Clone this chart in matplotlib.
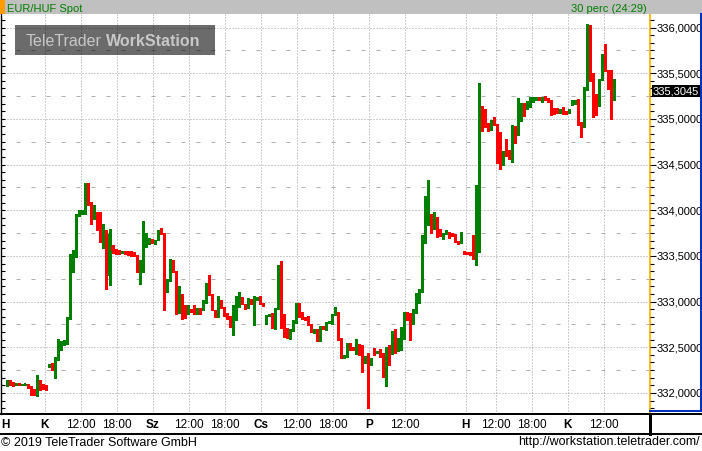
import matplotlib
matplotlib.use("Agg")
import matplotlib.pyplot as plt
import matplotlib.transforms as mtransforms
from matplotlib.lines import Line2D
from matplotlib.patches import Rectangle
from matplotlib.ticker import MultipleLocator, FixedLocator, FuncFormatter
import numpy as np

plt.rcParams['font.family'] = ['Liberation Sans', 'DejaVu Sans']

# EUR/HUF 30-minute candles (open, high, low, close)
opens = [
    332.095, 332.121, 332.110, 332.095, 332.102, 332.091, 332.095, 332.099, 332.073, 332.037,
    331.993, 332.084, 332.073, 332.066, 332.292, 332.321, 332.248, 332.394, 332.515, 332.547,
    332.569, 332.821, 333.427, 333.503, 333.945, 333.970, 333.970, 334.229, 334.061, 333.952,
    333.981, 333.842, 333.671, 333.744, 333.284, 333.605, 333.562, 333.551, 333.536, 333.540,
    333.532, 333.532, 333.525, 333.507, 333.405, 333.416, 333.613, 333.642, 333.671, 333.660,
    333.682, 333.769, 333.744, 333.124, 333.241, 333.452, 333.325, 332.985, 333.069, 332.931,
    332.905, 332.912, 332.905, 332.887, 332.923, 332.912, 332.996, 333.190, 333.080, 332.905,
    332.839, 332.978, 332.934, 332.869, 332.832, 332.748, 332.934, 332.949, 333.033, 332.960,
    332.934, 333.022, 332.752, 333.022, 333.033, 332.975, 332.759, 332.850, 332.869, 332.723,
    332.923, 333.379, 332.723, 332.704, 332.606, 332.686, 332.777, 332.978, 332.876, 332.825,
    332.832, 332.752, 332.668, 332.686, 332.613, 332.730, 332.704, 332.774, 332.777, 332.864,
    332.878, 332.590, 332.390, 332.397, 332.535, 332.499, 332.470, 332.525, 332.525, 332.342,
    332.433, 332.360, 332.477, 332.448, 332.441, 332.433, 332.178, 332.470, 332.441, 332.670,
    332.535, 332.579, 332.597, 332.871, 332.864, 332.769, 332.908, 332.988, 333.116, 333.674,
    333.867, 333.911, 333.838, 333.904, 333.754, 333.740, 333.747, 333.754, 333.747, 333.729,
    333.656, 333.645, 333.546, 333.535, 333.535, 333.521, 333.484, 333.565, 335.097, 335.097,
    334.933, 334.886, 334.958, 334.933, 334.550, 334.506, 334.623, 334.615, 334.579, 334.886,
    334.831, 335.104, 335.141, 335.126, 335.170, 335.221, 335.228, 335.228, 335.221, 335.228,
    335.221, 335.196, 335.102, 335.102, 335.087, 335.076, 335.072, 335.072, 335.149, 335.175,
    335.204, 334.941, 334.923, 335.332, 335.989, 335.496, 335.259, 335.149, 335.434, 335.678,
    335.532, 335.489, 335.211,
]
highs = [
    332.146, 332.139, 332.124, 332.106, 332.110, 332.102, 332.102, 332.102, 332.080, 332.048,
    332.193, 332.139, 332.102, 332.084, 332.318, 332.332, 332.394, 332.587, 332.569, 332.577,
    332.832, 333.518, 333.569, 333.963, 334.000, 334.000, 334.302, 334.302, 334.091, 334.054,
    333.981, 333.981, 333.846, 333.780, 333.799, 333.616, 333.577, 333.560, 333.550, 333.554,
    333.551, 333.551, 333.543, 333.507, 333.452, 333.879, 333.751, 333.700, 333.689, 333.675,
    333.780, 333.810, 333.751, 333.248, 333.470, 333.460, 333.335, 333.168, 333.080, 332.960,
    332.960, 332.923, 332.960, 332.934, 332.934, 333.014, 333.204, 333.288, 333.085, 332.912,
    333.058, 333.014, 332.942, 332.876, 332.840, 332.960, 333.058, 333.106, 333.051, 332.978,
    333.044, 333.030, 333.060, 333.051, 333.058, 332.985, 332.850, 332.869, 332.875, 332.934,
    333.398, 333.445, 332.869, 332.715, 332.700, 332.796, 332.985, 332.985, 332.887, 332.832,
    332.843, 332.759, 332.704, 332.704, 332.730, 332.735, 332.780, 332.785, 332.861, 332.944,
    332.885, 332.597, 332.415, 332.543, 332.543, 332.505, 332.590, 332.535, 332.530, 332.404,
    332.440, 332.380, 332.488, 332.460, 332.477, 332.440, 332.499, 332.525, 332.680, 332.700,
    332.597, 332.725, 332.889, 332.889, 332.870, 332.915, 333.097, 333.134, 333.729, 334.156,
    334.331, 333.959, 333.977, 333.929, 333.791, 333.754, 333.783, 333.765, 333.754, 333.736,
    333.660, 333.765, 333.550, 333.546, 333.546, 333.729, 334.276, 335.396, 335.141, 335.108,
    334.951, 334.988, 335.017, 334.940, 334.860, 334.648, 334.780, 334.659, 334.933, 334.922,
    335.225, 335.170, 335.170, 335.196, 335.243, 335.243, 335.243, 335.235, 335.243, 335.250,
    335.225, 335.211, 335.123, 335.123, 335.112, 335.131, 335.087, 335.112, 335.211, 335.211,
    335.222, 334.966, 335.350, 336.036, 336.025, 335.507, 335.269, 335.441, 335.715, 335.817,
    335.532, 335.532, 335.441,
]
lows = [
    332.073, 332.091, 332.080, 332.088, 332.084, 332.088, 332.091, 332.059, 331.982, 331.982,
    331.967, 332.029, 332.048, 332.029, 332.288, 332.248, 332.168, 332.358, 332.474, 332.525,
    332.540, 332.814, 333.324, 333.489, 333.940, 333.963, 333.963, 334.054, 333.853, 333.908,
    333.788, 333.653, 333.591, 333.142, 333.186, 333.532, 333.525, 333.520, 333.530, 333.518,
    333.507, 333.503, 333.496, 333.324, 333.197, 333.324, 333.600, 333.635, 333.642, 333.627,
    333.671, 333.740, 332.905, 333.110, 333.230, 333.320, 332.869, 332.880, 332.814, 332.821,
    332.869, 332.887, 332.869, 332.869, 332.869, 332.905, 332.990, 333.069, 332.905, 332.832,
    332.832, 332.934, 332.843, 332.814, 332.723, 332.631, 332.796, 332.940, 332.971, 332.923,
    332.930, 332.975, 332.741, 333.014, 332.978, 332.955, 332.752, 332.843, 332.715, 332.704,
    332.915, 332.715, 332.613, 332.606, 332.595, 332.679, 332.770, 332.832, 332.814, 332.796,
    332.741, 332.668, 332.657, 332.569, 332.569, 332.700, 332.693, 332.770, 332.759, 332.855,
    332.579, 332.379, 332.379, 332.390, 332.470, 332.465, 332.426, 332.415, 332.233, 332.331,
    331.831, 332.306, 332.415, 332.440, 332.397, 332.178, 332.076, 332.306, 332.422, 332.441,
    332.462, 332.470, 332.590, 332.798, 332.579, 332.754, 332.871, 332.981, 333.100, 333.638,
    333.838, 333.747, 333.790, 333.711, 333.722, 333.681, 333.736, 333.692, 333.715, 333.650,
    333.630, 333.640, 333.525, 333.521, 333.505, 333.466, 333.400, 333.540, 334.871, 334.915,
    334.867, 334.880, 334.933, 334.513, 334.451, 334.495, 334.597, 334.564, 334.528, 334.732,
    334.823, 334.980, 335.035, 335.104, 335.134, 335.188, 335.207, 335.210, 335.188, 335.207,
    335.188, 335.039, 335.058, 335.065, 335.065, 335.058, 335.058, 335.065, 335.149, 335.160,
    334.930, 334.802, 334.912, 335.313, 335.416, 335.021, 335.047, 335.138, 335.423, 335.525,
    335.332, 335.003, 335.204,
]
closes = [
    332.124, 332.110, 332.099, 332.102, 332.091, 332.099, 332.099, 332.066, 332.022, 331.993,
    332.084, 332.048, 332.059, 332.040, 332.314, 332.259, 332.387, 332.515, 332.547, 332.562,
    332.821, 333.427, 333.496, 333.945, 333.970, 333.981, 334.229, 334.061, 333.963, 333.977,
    333.842, 333.664, 333.744, 333.284, 333.744, 333.554, 333.543, 333.532, 333.543, 333.529,
    333.525, 333.518, 333.507, 333.405, 333.434, 333.591, 333.715, 333.689, 333.653, 333.671,
    333.769, 333.744, 333.131, 333.241, 333.460, 333.335, 332.985, 333.080, 332.821, 332.887,
    332.918, 332.898, 332.898, 332.923, 332.912, 332.996, 333.197, 333.080, 332.923, 332.839,
    332.978, 332.949, 332.850, 332.832, 332.748, 332.949, 332.942, 333.033, 332.985, 332.934,
    333.029, 332.985, 333.051, 333.044, 332.985, 332.968, 332.832, 332.861, 332.723, 332.923,
    333.379, 332.723, 332.704, 332.613, 332.686, 332.777, 332.978, 332.887, 332.832, 332.814,
    332.759, 332.675, 332.693, 332.620, 332.723, 332.704, 332.777, 332.779, 332.850, 332.871,
    332.590, 332.408, 332.397, 332.525, 332.499, 332.470, 332.499, 332.517, 332.342, 332.371,
    332.360, 332.375, 332.441, 332.455, 332.415, 332.185, 332.470, 332.441, 332.670, 332.525,
    332.579, 332.597, 332.871, 332.864, 332.780, 332.908, 332.988, 333.116, 333.674, 333.867,
    333.911, 333.838, 333.911, 333.754, 333.736, 333.747, 333.754, 333.740, 333.722, 333.656,
    333.638, 333.736, 333.532, 333.528, 333.510, 333.473, 333.718, 335.097, 335.090, 334.933,
    334.878, 334.969, 334.944, 334.521, 334.521, 334.623, 334.604, 334.575, 334.878, 334.823,
    335.097, 335.141, 335.126, 335.177, 335.218, 335.232, 335.232, 335.221, 335.228, 335.221,
    335.210, 335.094, 335.087, 335.091, 335.102, 335.069, 335.069, 335.094, 335.196, 335.204,
    334.941, 334.923, 335.332, 335.981, 335.503, 335.259, 335.149, 335.434, 335.686, 335.532,
    335.489, 335.211, 335.3045,
]

# time axis: candle index of each label / gridline
tick_pos = [12.4, 24.4, 36.4, 48.4, 60.4, 72.4, 84.4, 96.4, 108.4, 120.4, 132.4,
            152.6, 162.6, 174.6, 186.6, 198.6]
tick_labels = ["K", "12:00", "18:00", "Sz", "12:00", "18:00", "Cs", "12:00", "18:00",
               "P", "12:00", "H", "12:00", "18:00", "K", "12:00"]
first_label = "H"
day_names = ["H", "K", "Sz", "Cs", "P"]

last_price = 335.3045
title_left = "EUR/HUF Spot"
title_right = "30 perc (24:29)"

W, H = 702, 451
fig = plt.figure(figsize=(W / 100, H / 100), dpi=100)


def fx(x):
    return x / W


def fy(y):
    return 1 - y / H


def hline(x0, x1, y, color, lw=1.0):
    fig.add_artist(Line2D([fx(x0), fx(x1)], [fy(y), fy(y)], transform=fig.transFigure,
                          color=color, lw=lw * 0.72, antialiased=False))


def vline(x, y0, y1, color, lw=1.0):
    fig.add_artist(Line2D([fx(x), fx(x)], [fy(y0), fy(y1)], transform=fig.transFigure,
                          color=color, lw=lw * 0.72, antialiased=False))


# main price panel
ax = fig.add_axes([fx(0.5), fy(413.5), fx(650) - fx(0.5), fy(14) - fy(413.5)])
ax.set_xlim(-2.3, 214)
ax.set_ylim(331.775, 336.148)

# grid: dotted on every 0.5, short dashes on the quarters, dotted day/hour lines
for v in np.arange(332.0, 336.01, 0.5):
    ax.axhline(v, color="#a0a0a0", lw=0.72, ls=(0, (1, 2)), zorder=1)
for v in np.arange(332.25, 336.0, 0.5):
    ax.axhline(v, color="#b0b0b0", lw=0.72, ls=(0, (4, 11)), zorder=1)
for p in tick_pos:
    ax.axvline(p, color="#a0a0a0", lw=0.72, ls=(0, (1, 2)), zorder=1)

o = np.array(opens)
hi = np.array(highs)
lo = np.array(lows)
c = np.array(closes)
x = np.arange(len(o))
colors = np.where(c >= o, "#008000", "#ff0000")

ax.vlines(x, lo, hi, colors=colors, lw=0.8, zorder=3, antialiased=False)
body_bottom = np.minimum(o, c)
body_height = np.maximum(np.abs(c - o), 0.011)
ax.bar(x, body_height, bottom=body_bottom, width=0.67, color=colors, lw=0,
       zorder=4, antialiased=False)

# spines / ticks
ax.spines["top"].set_visible(False)
ax.spines["bottom"].set_visible(False)
ax.spines["right"].set_color("#ffc000")
ax.spines["right"].set_linewidth(1.4)
ax.spines["left"].set_color("black")
ax.spines["left"].set_linewidth(1.0)
ax.yaxis.set_major_locator(MultipleLocator(0.5))
ax.yaxis.set_minor_locator(MultipleLocator(1 / 12))
ax.tick_params(axis="y", which="both", left=True, right=False, direction="in",
               labelleft=False, length=3, width=0.8, color="black")
ax.set_xticks([])

ax2 = ax.twinx()
ax2.set_ylim(ax.get_ylim())
for s in ["top", "bottom", "left"]:
    ax2.spines[s].set_visible(False)
ax2.spines["right"].set_visible(False)
ax2.yaxis.set_major_locator(MultipleLocator(0.5))
ax2.yaxis.set_minor_locator(MultipleLocator(1 / 12))
ax2.yaxis.set_major_formatter(FuncFormatter(lambda v, pos: f"{v:.4f}".replace(".", ",")))
ax2.tick_params(axis="y", which="major", direction="out", length=4, width=0.8, pad=1,
                labelsize=8, colors="black")
ax2.tick_params(axis="y", which="minor", direction="out", length=3, width=0.8)

# current price marker on the right scale
blend = mtransforms.blended_transform_factory(ax.transAxes, ax.transData)
ax2.text(1.0, last_price, f"{last_price:.4f}".replace(".", ","), transform=blend + mtransforms.ScaledTranslation(3 / 100, 0, fig.dpi_scale_trans),
         ha="left", va="center", color="white", fontsize=8,
         bbox=dict(facecolor="black", edgecolor="none", boxstyle="square,pad=0.12"), zorder=10)

# x labels under the axis
xblend = mtransforms.blended_transform_factory(ax.transData, fig.transFigure)
ax.text(-2.0, fy(428.5), first_label, transform=xblend, ha="left", va="baseline",
        fontsize=8.5, fontweight="bold", clip_on=False)
for p, lab in zip(tick_pos, tick_labels):
    ax.text(p, fy(428.5), lab, transform=xblend, ha="center", va="baseline", fontsize=8.5,
            fontweight="bold" if lab in day_names else "normal", clip_on=False)

# header bar
fig.add_artist(Rectangle((0, fy(14)), 1, fy(0) - fy(14), transform=fig.transFigure,
                         facecolor="#c0c0c0", edgecolor="none"))
fig.add_artist(Rectangle((0, fy(14)), fx(5), fy(0) - fy(14), transform=fig.transFigure,
                         facecolor="#ff9c00", edgecolor="none"))
fig.text(fx(7), fy(11.5), title_left, color="#008000", fontsize=8, va="baseline", ha="left")
fig.text(fx(647), fy(11.5), title_right, color="#008000", fontsize=8, va="baseline", ha="right")

# watermark
fig.add_artist(Rectangle((fx(15), fy(55)), fx(215) - fx(15), fy(25) - fy(55),
                         transform=fig.transFigure, facecolor="black", alpha=0.58,
                         edgecolor="none", zorder=5))
fig.text(fx(26), fy(45.7), "TeleTrader", color="#c8c8c8", fontsize=11.5, va="baseline",
         ha="left", zorder=6)
fig.text(fx(106), fy(45.7), "WorkStation", color="#c8c8c8", fontsize=11.5, va="baseline",
         ha="left", fontweight="bold", zorder=6)

# frame lines around the scale panel and time band
vline(700.5, 14, 411, "#0030c0", 1.6)
hline(650, 701, 411, "#0030c0", 1.6)
hline(0, 702, 413.8, "black", 1.6)
hline(0, 702, 433.8, "black", 1.6)
vline(649.5, 413.8, 433.8, "black", 1.2)

# footer
fig.text(fx(1), fy(446), "\u00a9 2019 TeleTrader Software GmbH", fontsize=9, va="baseline", ha="left")
fig.text(fx(700), fy(445.5), "http://workstation.teletrader.com/", fontsize=9, va="baseline", ha="right")

fig.savefig("out.png", dpi=100)
